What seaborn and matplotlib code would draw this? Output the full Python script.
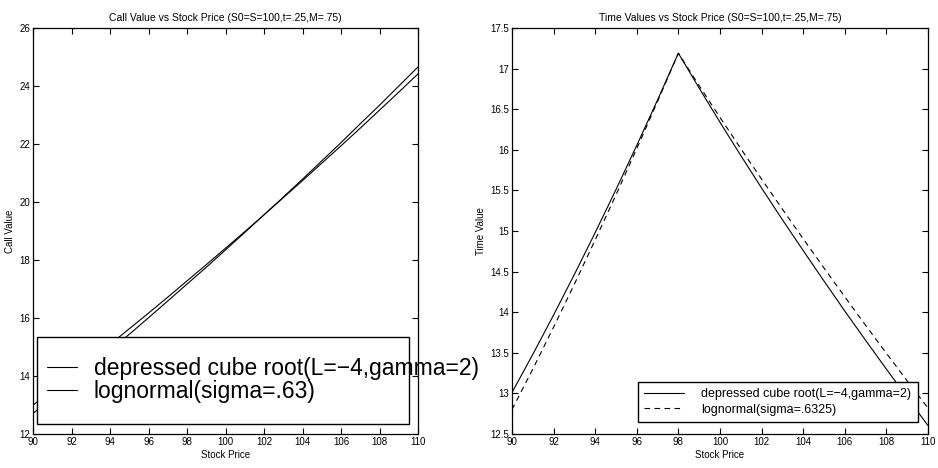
import matplotlib
matplotlib.use("Agg")
import matplotlib.pyplot as plt
from matplotlib import font_manager
from matplotlib.patches import Rectangle
from matplotlib.ticker import FormatStrFormatter, MultipleLocator
import seaborn as sns

# ---- data -------------------------------------------------------------
stock_price = [90, 91, 92, 93, 94, 95, 96, 97, 98, 99, 100,
               101, 102, 103, 104, 105, 106, 107, 108, 109, 110]

call_cube_root = [13.00, 13.51, 14.03, 14.56, 15.09, 15.63, 16.17, 16.72, 17.28, 17.84, 18.41,
                  18.98, 19.56, 20.15, 20.74, 21.34, 21.94, 22.55, 23.17, 23.79, 24.42]
call_lognormal = [12.71, 13.24, 13.78, 14.33, 14.88, 15.44, 16.01, 16.59, 17.17, 17.75, 18.35,
                  18.95, 19.56, 20.17, 20.79, 21.42, 22.05, 22.70, 23.34, 24.00, 24.66]

tv_cube_root = [13.01, 13.48, 13.965, 14.465, 14.98, 15.51, 16.055, 16.615, 17.19, 16.76, 16.34,
                15.93, 15.53, 15.14, 14.76, 14.385, 14.015, 13.655, 13.30, 12.95, 12.605]
tv_lognormal = [12.80, 13.30, 13.815, 14.345, 14.89, 15.445, 16.015, 16.595, 17.19, 16.79, 16.40,
                16.015, 15.64, 15.27, 14.905, 14.545, 14.19, 13.84, 13.495, 13.155, 12.82]

left_labels = ["depressed cube root(L=\u22124,gamma=2)", "lognormal(sigma=.63)"]
right_labels = ["depressed cube root(L=\u22124,gamma=2)", "lognormal(sigma=.6325)"]

left_title = "Call Value vs Stock Price (S0=S=100,t=.25,M=.75)"
right_title = "Time Values vs Stock Price (S0=S=100,t=.25,M=.75)"


def pick_family(candidates):
    for name in candidates:
        try:
            font_manager.findfont(font_manager.FontProperties(family=name),
                                  fallback_to_default=False)
            return name
        except ValueError:
            continue
    return "DejaVu Sans"


sns.set_theme(style="ticks")
family = pick_family(["Liberation Sans Narrow", "Liberation Sans", "Arial"])
plt.rcParams.update({
    "font.family": [family, "DejaVu Sans"],
    "text.color": "black",
    "axes.labelcolor": "black",
    "axes.titlecolor": "black",
    "axes.edgecolor": "black",
    "axes.linewidth": 0.9,
    "xtick.direction": "in",
    "ytick.direction": "in",
    "xtick.top": True,
    "ytick.right": True,
    "xtick.major.size": 4,
    "ytick.major.size": 4,
    "xtick.major.width": 0.8,
    "ytick.major.width": 0.8,
    "xtick.color": "black",
    "ytick.color": "black",
    "xtick.labelcolor": "black",
    "ytick.labelcolor": "black",
    "xtick.labelsize": 7,
    "ytick.labelsize": 7,
    "xtick.major.pad": 2,
    "ytick.major.pad": 2,
})

fig = plt.figure(figsize=(9.38, 4.68), dpi=100)
fig.patch.set_facecolor("white")

ax1 = fig.add_axes([0.0352, 0.0726, 0.4105, 0.8675])
ax2 = fig.add_axes([0.5458, 0.0726, 0.4435, 0.8675])

# ---- left: call value -------------------------------------------------
sns.lineplot(x=stock_price, y=call_cube_root, ax=ax1, color="black",
             linewidth=0.8, label=left_labels[0])
sns.lineplot(x=stock_price, y=call_lognormal, ax=ax1, color="black",
             linewidth=0.8, label=left_labels[1])
ax1.set_xlim(90, 110)
ax1.set_ylim(12, 26)
ax1.xaxis.set_major_locator(MultipleLocator(2))
ax1.yaxis.set_major_locator(MultipleLocator(2))
ax1.set_title(left_title, fontsize=7.5, pad=5)
ax1.set_xlabel("Stock Price", fontsize=7, labelpad=2)
ax1.set_ylabel("Call Value", fontsize=7, labelpad=3)

leg1 = ax1.legend(loc="upper left", bbox_to_anchor=(0.0356, 0.19),
                  frameon=False, fontsize=16.5, handlelength=1.3,
                  handletextpad=0.75, borderpad=0, borderaxespad=0,
                  labelspacing=0.0)
for h in leg1.legend_handles:
    h.set_linewidth(0.8)
for t in leg1.get_texts():
    t.set_color("black")
leg1.set_zorder(6)
ax1.add_patch(Rectangle((0.0104, 0.0246), 0.9662, 0.2144, transform=ax1.transAxes,
                        facecolor="white", edgecolor="black", linewidth=1.0,
                        zorder=5, clip_on=False))

# ---- right: time value ------------------------------------------------
sns.lineplot(x=stock_price, y=tv_cube_root, ax=ax2, color="black",
             linewidth=0.8, label=right_labels[0])
sns.lineplot(x=stock_price, y=tv_lognormal, ax=ax2, color="black",
             linewidth=0.8, linestyle=(0, (5, 4)), label=right_labels[1])
ax2.set_xlim(90, 110)
ax2.set_ylim(12.5, 17.5)
ax2.xaxis.set_major_locator(MultipleLocator(2))
ax2.yaxis.set_major_locator(MultipleLocator(0.5))
ax2.yaxis.set_major_formatter(FormatStrFormatter("%g"))
ax2.set_title(right_title, fontsize=7.5, pad=5)
ax2.set_xlabel("Stock Price", fontsize=7, labelpad=2)
ax2.set_ylabel("Time Value", fontsize=7, labelpad=3)

leg2 = ax2.legend(loc="lower right", bbox_to_anchor=(0.975, 0.03),
                  frameon=True, fancybox=False, fontsize=9, handlelength=3.2,
                  handletextpad=1.4, borderpad=0.5, borderaxespad=0,
                  labelspacing=0.25, framealpha=1)
leg2.get_frame().set_edgecolor("black")
leg2.get_frame().set_linewidth(1.0)
for h in leg2.legend_handles:
    h.set_linewidth(0.8)
for t in leg2.get_texts():
    t.set_color("black")

for ax in (ax1, ax2):
    for s in ax.spines.values():
        s.set_visible(True)
        s.set_color("black")

fig.savefig("out.png", dpi=100, facecolor="white")
